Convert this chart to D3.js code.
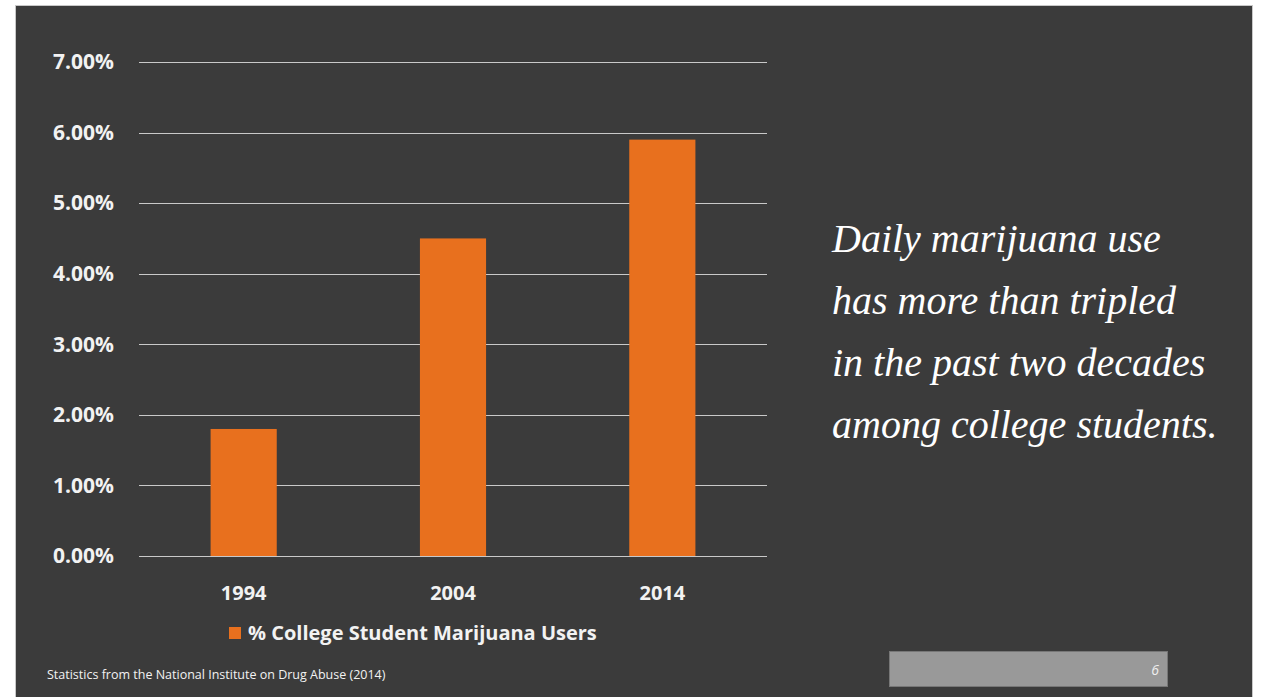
<!DOCTYPE html>
<html><head><meta charset="utf-8">
<script src="https://cdn.jsdelivr.net/npm/d3@7"></script>
<style>
html,body{margin:0;padding:0;background:#fff;}
svg{display:block;}
</style></head>
<body>
<svg id="c" width="1261" height="697"></svg>
<script>
const categories = ["1994", "2004", "2014"];
const values = [0.018, 0.045, 0.059];
const yTicks = [0, 0.01, 0.02, 0.03, 0.04, 0.05, 0.06, 0.07];
const seriesName = "% College Student Marijuana Users";
const quoteLines = ["Daily marijuana use", "has more than tripled", "in the past two decades", "among college students."];
const footnote = "Statistics from the National Institute on Drug Abuse (2014)";
const pageNumber = "6";

const svg = d3.select("#c");
const sansBold = "'Open Sans', Lato, sans-serif";

// slide background
svg.append("rect").attr("x", 15.5).attr("y", 5.5).attr("width", 1237).attr("height", 700)
  .attr("fill", "#3b3b3b").attr("stroke", "#c8c8c8").attr("stroke-width", 1);

const x = d3.scaleBand().domain(categories).range([139, 767]).paddingInner(0.684).paddingOuter(0.342);
const y = d3.scaleLinear().domain([0, 0.07]).range([556, 62]);

// gridlines
svg.append("g").selectAll("line").data(yTicks).join("line")
  .attr("x1", 139).attr("x2", 767)
  .attr("y1", d => Math.round(y(d)) + 0.5).attr("y2", d => Math.round(y(d)) + 0.5)
  .attr("stroke", "#c9c9c9").attr("stroke-width", 1);

// y axis labels
const yAxis = d3.axisLeft(y).tickValues(yTicks).tickFormat(d3.format(".2%")).tickSize(0).tickPadding(0);
const yg = svg.append("g").attr("transform", "translate(114,0)").call(yAxis);
yg.select(".domain").remove();
yg.selectAll("text").attr("fill", "#f2f2f2").attr("font-family", sansBold).attr("font-weight", "bold")
  .attr("font-size", 21).attr("dy", "0.32em");

// bars
svg.append("g").selectAll("rect").data(values).join("rect")
  .attr("x", (d, i) => x(categories[i])).attr("width", x.bandwidth())
  .attr("y", d => y(d)).attr("height", d => y(0) - y(d))
  .attr("fill", "#e8701e");

// x axis labels
const xAxis = d3.axisBottom(x).tickSize(0).tickPadding(0);
const xg = svg.append("g").attr("transform", "translate(0,594)").call(xAxis);
xg.select(".domain").remove();
xg.selectAll("text").attr("fill", "#f2f2f2").attr("font-family", sansBold).attr("font-weight", "bold")
  .attr("font-size", 20).attr("dy", "0.32em");

// legend
svg.append("rect").attr("x", 229).attr("y", 627).attr("width", 12).attr("height", 12).attr("fill", "#e8701e");
svg.append("text").attr("x", 248).attr("y", 640).text(seriesName)
  .attr("fill", "#f2f2f2").attr("font-family", sansBold).attr("font-weight", "bold").attr("font-size", 20);

// quote
svg.append("g").selectAll("text").data(quoteLines).join("text")
  .attr("x", 832).attr("y", (d, i) => 252 + i * 62)
  .text(d => d)
  .attr("fill", "#ffffff").attr("font-family", "'Liberation Serif', 'DejaVu Serif', serif")
  .attr("font-style", "italic").attr("font-size", 40);

// footnote
svg.append("text").attr("x", 47).attr("y", 679).text(footnote)
  .attr("fill", "#f2f2f2").attr("font-family", "'Open Sans', sans-serif").attr("font-size", 12.5);

// page number box
svg.append("rect").attr("x", 889.5).attr("y", 651.5).attr("width", 278).attr("height", 35)
  .attr("fill", "#999999").attr("stroke", "#777").attr("stroke-width", 1);
svg.append("text").attr("x", 1159).attr("y", 675).attr("text-anchor", "end").text(pageNumber)
  .attr("fill", "#eeeeee").attr("font-family", "'Open Sans', sans-serif").attr("font-style", "italic").attr("font-size", 14);
</script>
</body></html>
